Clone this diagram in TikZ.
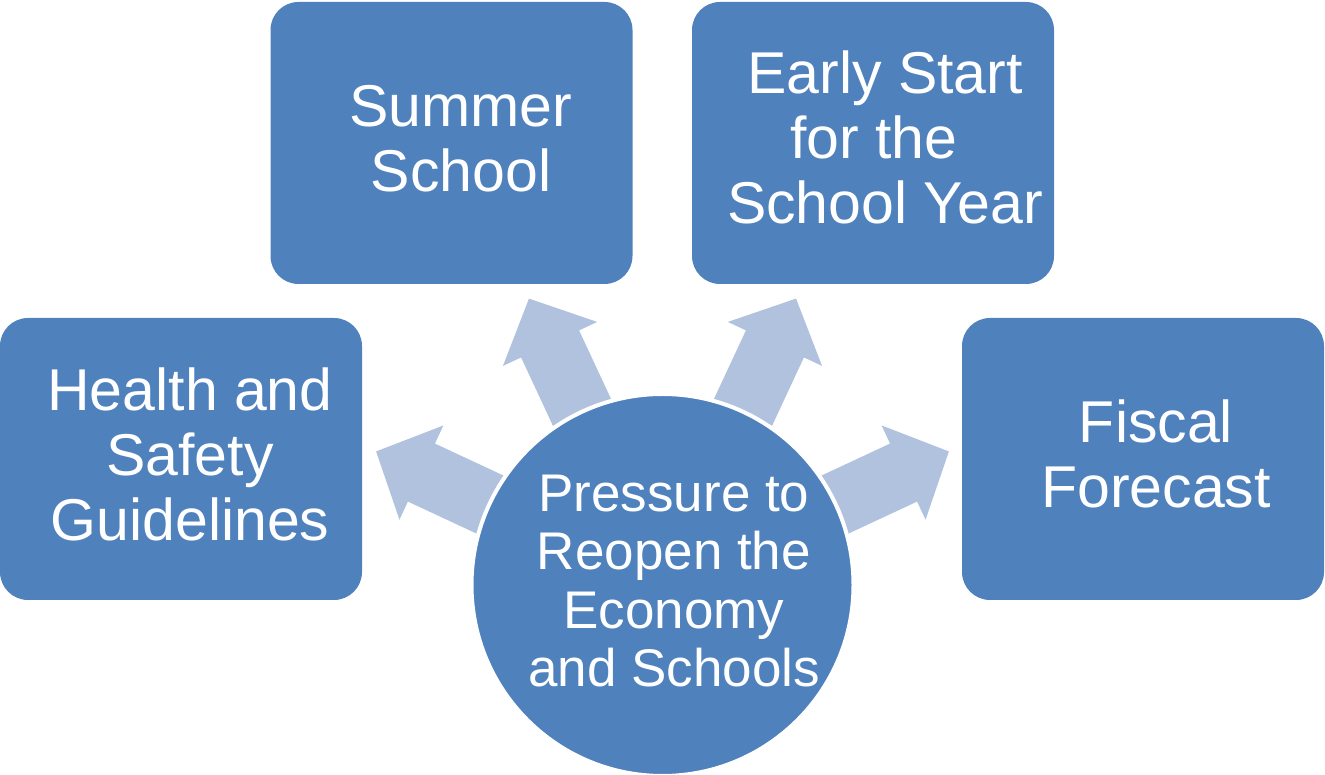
\documentclass[tikz,border=0pt]{standalone}
\usepackage{fontspec}
\setmainfont{Liberation Sans}

\definecolor{kastenblau}{HTML}{4F81BD}
\definecolor{pfeilblau}{HTML}{B1C2DE}

\tikzset{
    kasten/.style={rectangle, rounded corners=28pt, fill=kastenblau,
        minimum width=362pt, minimum height=282pt, inner sep=0pt},
    kastentext/.style={text=white, align=center, inner sep=0pt,
        font=\fontsize{59}{65}\selectfont},
    mitte/.style={circle, fill=kastenblau, draw=white, line width=4pt,
        minimum size=382pt, inner sep=0pt},
    mittetext/.style={text=white, align=center, inner sep=0pt,
        font=\fontsize{53}{58.5}\selectfont},
    blockpfeil/.style={fill=pfeilblau}
}

\begin{document}
\begin{tikzpicture}[x=1pt, y=1pt]
    \useasboundingbox (0,0) rectangle (1325,775);

    % Mittelpunkt
    \coordinate (hubpos) at (662.5,190);

    % Pfeile
    \foreach \w in {25,65,115,155} {
        \begin{scope}[shift={(hubpos)}, rotate=\w]
            \fill[blockpfeil] (150,-32) -- (266,-32) -- (266,-52) -- (316,0)
                -- (266,52) -- (266,32) -- (150,32) -- cycle;
        \end{scope}
    }

    % Kreis
    \node[mitte] (hub) at (hubpos) {};
    \node[mittetext] (hubtext) at ([shift={(11.5,4)}]hub.center)
        {Pressure to\\Reopen the\\Economy\\and Schools};

    % Kaesten
    \node[kasten] (health) at (181,316) {};
    \node[kasten] (summer) at (451.5,632) {};
    \node[kasten] (early) at (873,632) {};
    \node[kasten] (fiscal) at (1143,316) {};

    % Beschriftung
    \node[kastentext] (healthtext) at ([shift={(9,5)}]health.center)
        {Health and\\Safety\\Guidelines};
    \node[kastentext] (summertext) at ([shift={(9.5,4)}]summer.center)
        {Summer\\School};
    \node[kastentext] (earlytext) at ([shift={(12,6)}]early.center)
        {Early Start\\for the\makebox[22pt]{}\\School Year};
    \node[kastentext] (fiscaltext) at ([shift={(13,5.5)}]fiscal.center)
        {Fiscal\\Forecast};
\end{tikzpicture}
\end{document}
